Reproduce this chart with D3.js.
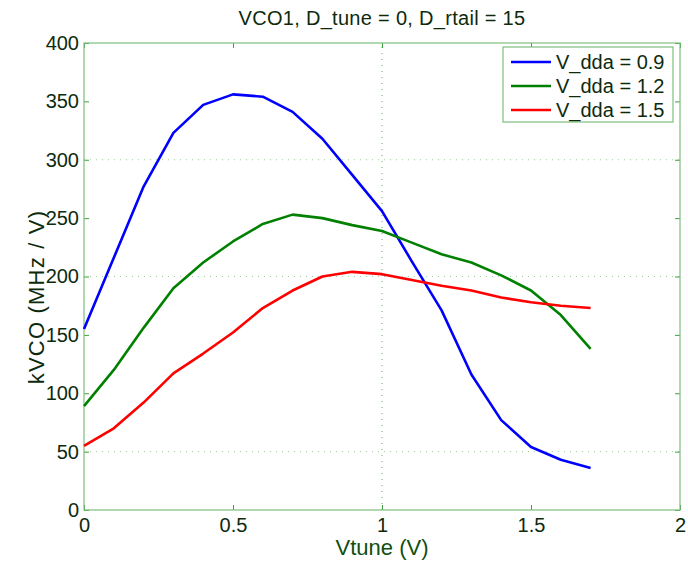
<!DOCTYPE html>
<html>
<head>
<meta charset="utf-8">
<script src="https://cdn.jsdelivr.net/npm/d3@7"></script>
<style>
  html, body { margin: 0; padding: 0; background: #fff; }
  svg { display: block; font-family: "Liberation Sans", Arial, Helvetica, sans-serif; }
</style>
</head>
<body>
<svg id="chart" width="688" height="562"></svg>
<script>
// Tuning voltage samples (V)
const vtune = [0, 0.1, 0.2, 0.3, 0.4, 0.5, 0.6, 0.7, 0.8, 0.9, 1.0, 1.1, 1.2, 1.3, 1.4, 1.5, 1.6, 1.7];

// kVCO (MHz / V) for each supply voltage
const kvcoVdda09 = [155, 216, 277, 323, 347, 356, 354, 341, 318, 287, 256, 213, 171, 116, 77, 54, 43, 36];
const kvcoVdda12 = [89, 120, 156, 190, 212, 230, 245, 253, 250, 244, 239, 229, 219, 212, 201, 188, 167, 138];
const kvcoVdda15 = [55, 70, 92, 117, 134, 152, 173, 188, 200, 204, 202, 197, 192, 188, 182, 178, 175, 173];

const seriesNames = ["V_dda = 0.9", "V_dda = 1.2", "V_dda = 1.5"];
const seriesColors = ["#0000ff", "#008000", "#ff0000"];

const xTicks = [0, 0.5, 1, 1.5, 2];
const yTicks = [0, 50, 100, 150, 200, 250, 300, 350, 400];
const xGrid = [1];
const yGrid = [50, 200, 300];

const titleText = "VCO1, D_tune = 0, D_rtail = 15";
const xLabel = "Vtune (V)";
const yLabel = "kVCO (MHz / V)";

const svg = d3.select("#chart");
const margin = { left: 84, right: 8, top: 43, bottom: 52 };
const W = 688, H = 562;
const x = d3.scaleLinear().domain([0, 2]).range([margin.left, W - margin.right]);
const y = d3.scaleLinear().domain([0, 400]).range([H - margin.bottom, margin.top]);

const axisColor = "#7fbf7f";
const textColor = "#0d2a0d";

// dotted grid
const g = svg.append("g");
g.selectAll("line.gx").data(xGrid).join("line")
  .attr("x1", d => x(d)).attr("x2", d => x(d))
  .attr("y1", y(0)).attr("y2", y(400))
  .attr("stroke", "#5fa85f").attr("stroke-width", 1)
  .attr("stroke-dasharray", "1,5");
g.selectAll("line.gy").data(yGrid).join("line")
  .attr("y1", d => y(d)).attr("y2", d => y(d))
  .attr("x1", x(0)).attr("x2", x(2))
  .attr("stroke", "#9ccf9c").attr("stroke-width", 1)
  .attr("stroke-dasharray", "1,5");

// axes with inward ticks on all four sides
function styleAxis(sel) {
  sel.selectAll(".domain").remove();
  sel.selectAll(".tick line").attr("stroke", "#3f9f3f");
  sel.selectAll(".tick text").attr("fill", textColor).style("font-size", "20px");
}
svg.append("g").attr("transform", `translate(0,${y(0)})`)
  .call(d3.axisBottom(x).tickValues(xTicks).tickSize(-5).tickPadding(7).tickFormat(d3.format("")))
  .call(styleAxis)
  .call(s => s.selectAll(".tick text").attr("dy", "0.75em"));
svg.append("g").attr("transform", `translate(0,${y(400)})`)
  .call(d3.axisTop(x).tickValues(xTicks).tickSize(-5).tickFormat(""))
  .call(styleAxis);
svg.append("g").attr("transform", `translate(${x(0)},0)`)
  .call(d3.axisLeft(y).tickValues(yTicks).tickSize(-5).tickPadding(5))
  .call(styleAxis);
svg.append("g").attr("transform", `translate(${x(2)},0)`)
  .call(d3.axisRight(y).tickValues(yTicks).tickSize(-5).tickFormat(""))
  .call(styleAxis);

// plot frame
svg.append("rect")
  .attr("x", x(0)).attr("y", y(400))
  .attr("width", x(2) - x(0)).attr("height", y(0) - y(400))
  .attr("fill", "none").attr("stroke", axisColor).attr("stroke-width", 1.2);

// series lines
const allSeries = [kvcoVdda09, kvcoVdda12, kvcoVdda15];
const line = d3.line().x((d, i) => x(vtune[i])).y(d => y(d));
svg.append("g").selectAll("path").data(allSeries).join("path")
  .attr("d", d => line(d))
  .attr("fill", "none")
  .attr("stroke", (d, i) => seriesColors[i])
  .attr("stroke-width", 2.6)
  .attr("stroke-linejoin", "round");

// title and axis labels
svg.append("text").attr("x", (x(0) + x(2)) / 2).attr("y", 25)
  .attr("text-anchor", "middle").attr("fill", textColor).style("font-size", "20px")
  .style("letter-spacing", "0.3px")
  .text(titleText);
svg.append("text").attr("x", (x(0) + x(2)) / 2).attr("y", 555)
  .attr("text-anchor", "middle").attr("fill", "#0f4f0f").style("font-size", "22px")
  .text(xLabel);
svg.append("text")
  .attr("transform", "translate(44,297) rotate(-90)")
  .attr("text-anchor", "middle").attr("fill", textColor).style("font-size", "22px")
  .style("letter-spacing", "1.2px")
  .text(yLabel);

// legend
const lg = svg.append("g").attr("transform", "translate(503,47)");
lg.append("rect").attr("width", 170).attr("height", 75)
  .attr("fill", "#fff").attr("stroke", axisColor).attr("stroke-width", 1.2);
const rows = lg.selectAll("g.row").data(seriesNames).join("g")
  .attr("transform", (d, i) => `translate(0,${15 + i * 24})`);
rows.append("line").attr("x1", 8).attr("x2", 48).attr("y1", 0).attr("y2", 0)
  .attr("stroke", (d, i) => seriesColors[i]).attr("stroke-width", 2.6);
rows.append("text").attr("x", 53).attr("y", 0).attr("dy", "0.36em")
  .attr("fill", textColor).style("font-size", "20px")
  .text(d => d);
</script>
</body>
</html>
